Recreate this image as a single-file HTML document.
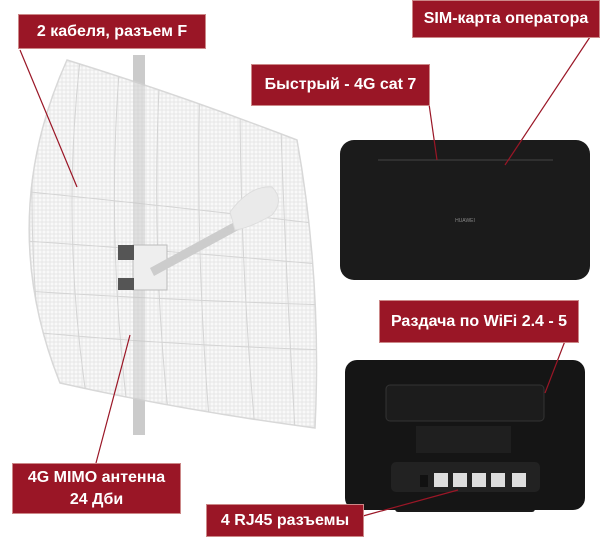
<!DOCTYPE html>
<html><head><meta charset="utf-8"><style>
body{margin:0;width:602px;height:546px;background:#fff;position:relative;overflow:hidden;font-family:"Liberation Sans",sans-serif}
.l{position:absolute;background:#9a1626;color:#fff;font-weight:bold;font-size:16px;display:flex;align-items:center;justify-content:center;text-align:center;line-height:22px;border:1px solid #c88}
</style></head><body>
<svg width="602" height="546" style="position:absolute;left:0;top:0">
<defs>
<pattern id="m" width="4" height="4" patternUnits="userSpaceOnUse"><rect width="4" height="4" fill="#f9f9f9"/><path d="M0 2H4M2 0V4" stroke="#e2e2e2" stroke-width="0.7"/></pattern>
<clipPath id="c"><path d="M67 60 Q180 95 297 140 Q322 280 315 428 Q180 410 60 383 Q-5 220 67 60Z"/></clipPath>
</defs>
<rect x="133" y="55" width="12" height="380" fill="#cfcfcf"/>
<path d="M67 60 Q180 95 297 140 Q322 280 315 428 Q180 410 60 383 Q-5 220 67 60Z" fill="url(#m)" stroke="#d8d8d8" stroke-width="1.5"/>
<g clip-path="url(#c)" stroke="#d4d4d4" stroke-width="1" fill="none">
<path d="M10 190 Q160 205 330 225"/><path d="M10 240 Q160 250 330 265"/><path d="M10 290 Q160 300 330 305"/><path d="M10 330 Q160 345 330 350"/>
<path d="M40 60 Q20 230 50 420"/><path d="M80 60 Q60 240 90 420"/><path d="M120 60 Q105 240 130 430"/><path d="M160 70 Q150 250 170 430"/><path d="M200 80 Q195 250 210 430"/><path d="M240 90 Q240 260 255 430"/><path d="M280 100 Q285 260 295 430"/>
</g>
<rect x="133" y="55" width="12" height="380" fill="#c8c8c8" opacity="0.5"/>
<rect x="133" y="245" width="34" height="45" fill="#eee" stroke="#bbb"/>
<rect x="118" y="245" width="16" height="15" fill="#555"/><rect x="118" y="278" width="16" height="12" fill="#555"/>
<path d="M150 268 L238 220 L242 228 L154 276Z" fill="#ccc"/>
<path d="M230 212 Q250 185 272 187 Q285 200 272 215 Q250 228 235 230Z" fill="#eaeaea" stroke="#ddd"/>
<rect x="340" y="140" width="250" height="140" rx="14" fill="#1b1b1b"/>
<line x1="378" y1="160" x2="553" y2="160" stroke="#444"/>
<text x="465" y="222" font-size="5" fill="#888" text-anchor="middle" font-family="Liberation Sans">HUAWEI</text>
<rect x="395" y="492" width="140" height="20" rx="3" fill="#1a1a1a"/>
<rect x="345" y="360" width="240" height="150" rx="12" fill="#151515"/>
<rect x="386" y="385" width="158" height="36" rx="4" fill="#1c1c1c" stroke="#333"/>
<rect x="416" y="426" width="95" height="27" fill="#1f1f1f"/>
<rect x="391" y="462" width="149" height="30" rx="5" fill="#222"/>
<g fill="#ddd"><rect x="434" y="473" width="14" height="14"/><rect x="453" y="473" width="14" height="14"/><rect x="472" y="473" width="14" height="14"/><rect x="491" y="473" width="14" height="14"/><rect x="512" y="473" width="14" height="14"/></g>
<rect x="420" y="475" width="8" height="12" fill="#111"/>
<g stroke="#9a1626" stroke-width="1.2">
<line x1="20" y1="50" x2="77" y2="187"/><line x1="590" y1="37" x2="505" y2="165"/>
<line x1="429" y1="104" x2="437" y2="160"/><line x1="565" y1="341" x2="545" y2="393"/>
<line x1="96" y1="463" x2="130" y2="335"/><line x1="363" y1="516" x2="458" y2="490"/>
</g>
</svg>
<div class="l" style="left:18px;top:14px;width:186px;height:33px">2 кабеля, разъем F</div>
<div class="l" style="left:412px;top:0;width:186px;height:36px">SIM-карта оператора</div>
<div class="l" style="left:251px;top:64px;width:177px;height:40px">Быстрый - 4G cat 7</div>
<div class="l" style="left:379px;top:300px;width:198px;height:41px">Раздача по WiFi 2.4 - 5</div>
<div class="l" style="left:12px;top:463px;width:167px;height:49px">4G MIMO антенна<br>24 Дби</div>
<div class="l" style="left:206px;top:504px;width:156px;height:31px">4 RJ45 разъемы</div>
</body></html>
